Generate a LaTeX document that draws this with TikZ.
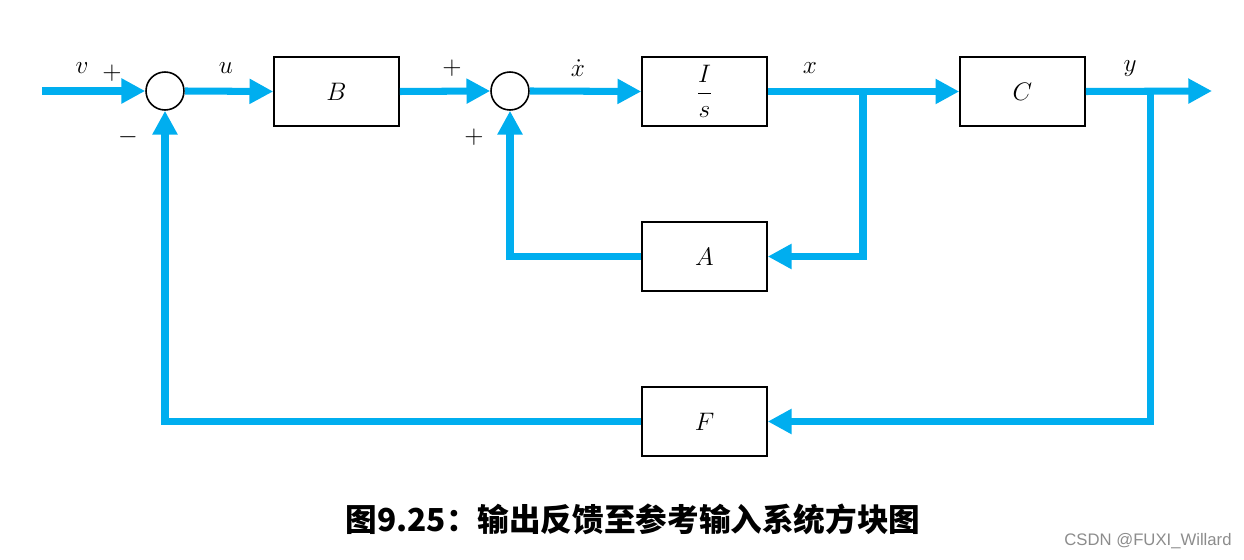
\documentclass[tikz,border=0pt]{standalone}
\usepackage{fontspec}
\newfontfamily\cjk{Noto Sans CJK SC}
\newfontfamily\wmfont{Liberation Sans}
\usetikzlibrary{arrows.meta}
\definecolor{sigblue}{RGB}{0,174,239}

\begin{document}
\begin{tikzpicture}[x=0.02cm,y=-0.02cm,
    sig/.style={draw=sigblue, line width=4pt},
    sigarr/.style={sig, -{Triangle[length=13.5pt,width=13.5pt]}},
    blk/.style={draw, line width=0.9pt, minimum width=2.5cm, minimum height=1.38cm, inner sep=0pt, font=\fontsize{14}{16}\selectfont},
    sumj/.style={draw, circle, line width=0.9pt, minimum size=0.76cm, inner sep=0pt},
    lbl/.style={font=\fontsize{14}{16}\selectfont}]
\useasboundingbox (0,0) rectangle (1244,560);
                    % blocks
                    \node[sumj] (s1) at (165,91) {};
                    \node[sumj] (s2) at (510,91) {};
                    \node[blk] (B) at (336.5,91.5) {$B$};
                    \node[blk] (Is) at (704.5,91.5) {$\displaystyle\frac{I}{s}$};
                    \node[blk] (C) at (1022.5,91.5) {$C$};
                    \node[blk] (A) at (704.5,256.5) {$A$};
                    \node[blk] (F) at (704.5,421.5) {$F$};
                    \coordinate (in) at (42,91);
                    \coordinate (out) at (1212,91);
                    \coordinate (bx) at (863,91);
                    \coordinate (by) at (1150,91);
                    % forward path
                    \draw[sigarr] (in) -- (s1.west);
                    \draw[sigarr] (s1.east) -- (B.west);
                    \draw[sigarr] (B.east) -- (s2.west);
                    \draw[sigarr] (s2.east) -- (Is.west);
                    \draw[sigarr] (Is.east) -- (C.west);
                    \draw[sigarr] (C.east) -- (out);
                    % feedback paths
                    \draw[sigarr] (bx) |- (A.east);
                    \draw[sigarr] (A.west) -| (s2.south);
                    \draw[sigarr] (by) |- (F.east);
                    \draw[sigarr] (F.west) -| (s1.south);
                    % labels
                    \node[lbl] (lv) at (82,68) {$v$};
                    \node[lbl] (lp1) at (112,73) {$+$};
                    \node[lbl] (lm1) at (128,137) {$-$};
                    \node[lbl] (lu) at (226,68) {$u$};
                    \node[lbl] (lp2) at (452,68) {$+$};
                    \node[lbl] (lp3) at (474,137) {$+$};
                    \node[lbl] (lxd) at (578,68) {$\dot{x}$};
                    \node[lbl] (lx) at (810,68) {$x$};
                    \node[lbl] (ly) at (1130,69) {$y$};
                    % caption
                    \node[font=\cjk\bfseries\fontsize{18}{21}\selectfont] (cap) at (633,519) {图9.25：输出反馈至参考输入系统方块图};
                    \node[font=\wmfont\fontsize{9.5}{11}\selectfont, text=black!45] (wm) at (1148,541) {CSDN @FUXI\_Willard};
                \end{tikzpicture}
\end{document}
